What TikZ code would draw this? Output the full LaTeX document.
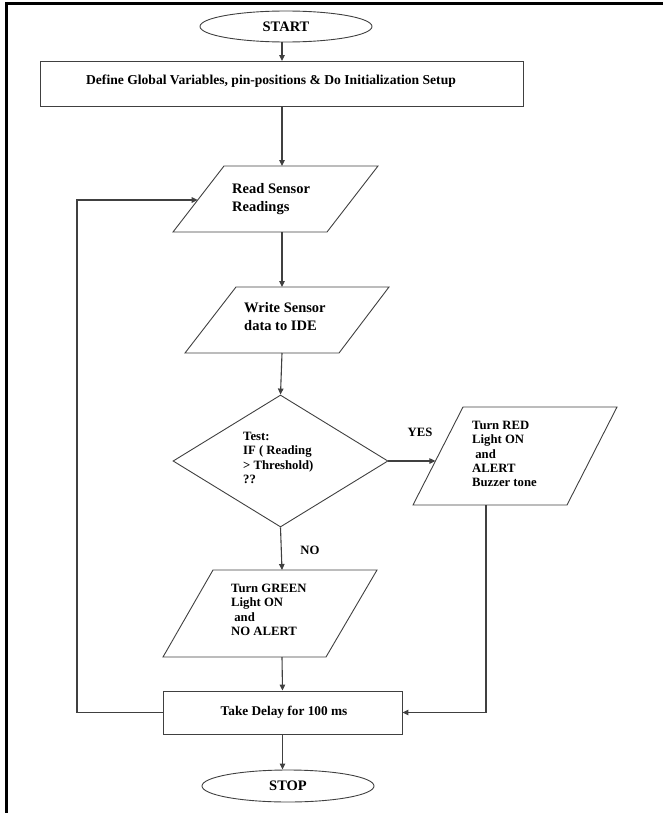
\documentclass[tikz,border=0pt]{standalone}
\usepackage{fontspec}
\setmainfont{Liberation Serif}
\usetikzlibrary{shapes.geometric,arrows.meta}
\begin{document}
\begin{tikzpicture}[x=1bp,y=-1bp,
  shapeline/.style={draw=black!75,line width=0.9bp},
  conn/.style={draw=black!75,line width=1.1bp},
  arr/.style={conn,-{Triangle[length=6bp,width=5.5bp]}},
  txt/.style={font=\bfseries\fontsize{12.7bp}{14.3bp}\selectfont,align=left,inner sep=0pt},
  bigtxt/.style={font=\bfseries\fontsize{14.5bp}{18.5bp}\selectfont,align=left,inner sep=0pt},
  termnode/.style={shapeline,ellipse,minimum width=172bp,inner sep=0pt,font=\bfseries\fontsize{14.5bp}{16bp}\selectfont},
  procbox/.style={shapeline,rectangle,inner sep=0pt}
]
\useasboundingbox (0,0) rectangle (663,813);
% page frame
\draw[line width=3bp] (5,3.5) -- (663,3.5);
\draw[line width=3bp] (6.5,2) -- (6.5,813);

% start
\node[termnode,minimum height=31bp] (start) at (286,26.5) {START};
% define
\node[procbox,minimum width=483bp,minimum height=45bp] (define) at (281.5,84) {};
\node[txt,font=\bfseries\fontsize{13.6bp}{15bp}\selectfont] (definetxt) at (271,81) {Define Global Variables, pin-positions \& Do Initialization Setup};

% read sensor parallelogram
\draw[shapeline] (224,166) -- (378,166) -- (327,232) -- (173,232) -- cycle;
\node[bigtxt,anchor=north west] (read) at (232,183) {Read Sensor\\Readings};
\coordinate (readN) at (282,166);
\coordinate (readS) at (282,232);
\coordinate (readW) at (197.7,200);

% write sensor
\draw[shapeline] (236,287) -- (389,287) -- (339,353) -- (185,353) -- cycle;
\node[bigtxt,anchor=north west] (write) at (244,302) {Write Sensor\\data to IDE};
\coordinate (writeN) at (282,287);
\coordinate (writeS) at (282,353);

% decision
\node[shapeline,diamond,minimum width=215bp,minimum height=132bp,inner sep=0pt] (test) at (280.5,461) {};
\node[txt,anchor=north west] (testtxt) at (243,432) {Test:\\IF ( Reading\\\textgreater{} Threshold)\\??};

% red
\draw[shapeline] (463,407) -- (617,407) -- (567,505) -- (413,505) -- cycle;
\node[txt,anchor=north west] (red) at (472,421) {Turn RED\\Light ON\\\ and\\ALERT\\Buzzer tone};
\coordinate (redW) at (435.4,461);
\coordinate (redS) at (486,505);

% green
\draw[shapeline] (213,570) -- (377,570) -- (326,657) -- (163,657) -- cycle;
\node[txt,anchor=north west] (green) at (231,584) {Turn GREEN\\Light ON\\\ and\\NO ALERT};
\coordinate (greenN) at (282,570);
\coordinate (greenS) at (282,657);

% delay
\node[procbox,minimum width=239bp,minimum height=43bp] (delay) at (282.5,712.5) {};
\node[txt,font=\bfseries\fontsize{13.3bp}{15bp}\selectfont] (delaytxt) at (284,712) {Take Delay for 100 ms};

% stop
\node[termnode,minimum height=32bp] (stop) at (288,786) {STOP};

% labels
\node[txt] (yes) at (420,432) {YES};
\node[txt] (no) at (310,550) {NO};

% connectors
\draw[arr] (282,42) coordinate (s1) -- (s1 |- define.north);
\draw[arr] (282,106.5) coordinate (d1) -- (readN);
\draw[arr] (readS) -- (writeN);
\draw[arr] (writeS) -- (test.north);
\draw[arr] (test.east) -- (redW);
\draw[arr] (test.south) -- (greenN);
\draw[arr] (greenS) -- (delay.north);
\draw[arr] (delay.south) -- (delay.south |- stop.north);
\draw[arr] (redS) |- (delay.east);
\draw[arr] (delay.west) -| (77,200) coordinate (fb) -- (readW);
\end{tikzpicture}
\end{document}
